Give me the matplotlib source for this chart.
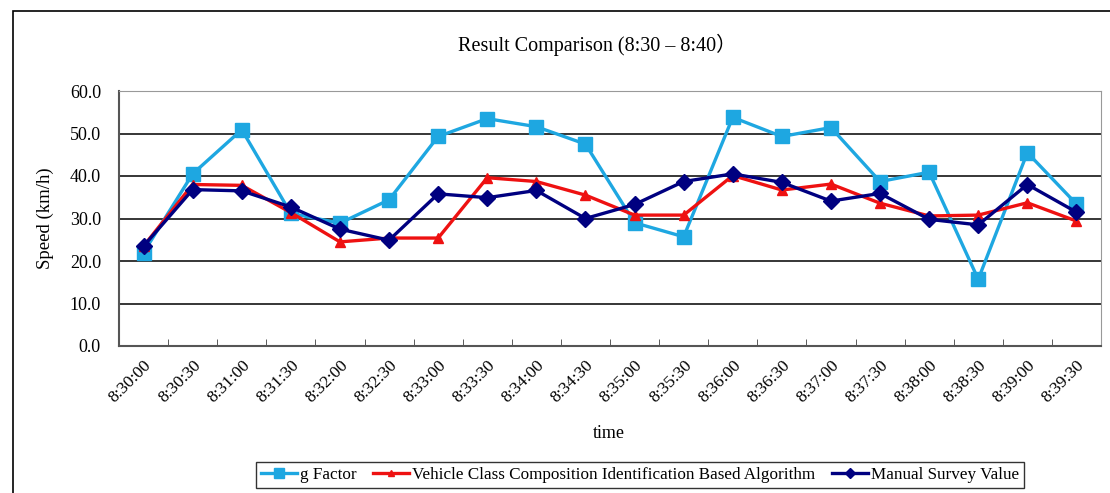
"""
 Speed result comparison chart (8:30 - 8:40)
"""

import matplotlib
matplotlib.use("Agg")
import matplotlib.pyplot as plt
from matplotlib.patches import Rectangle


# Step 1: Data

times = ['8:30:00', '8:30:30', '8:31:00', '8:31:30', '8:32:00', '8:32:30',
         '8:33:00', '8:33:30', '8:34:00', '8:34:30', '8:35:00', '8:35:30',
         '8:36:00', '8:36:30', '8:37:00', '8:37:30', '8:38:00', '8:38:30',
         '8:39:00', '8:39:30']

g_factor = [22.0, 40.5, 50.9, 31.2, 28.9, 34.4, 49.3, 53.5, 51.6, 47.5,
            29.0, 25.7, 53.8, 49.3, 51.4, 38.7, 40.9, 15.7, 45.5, 33.4]

vehicle_class = [23.5, 38.0, 37.8, 31.4, 24.5, 25.4, 25.4, 39.6, 38.7, 35.5,
                 30.8, 30.8, 40.1, 36.7, 38.1, 33.6, 30.6, 30.8, 33.7, 29.4]

manual_survey = [23.5, 36.8, 36.5, 32.7, 27.5, 24.9, 35.8, 34.9, 36.6, 30.0,
                 33.3, 38.7, 40.5, 38.5, 34.1, 35.9, 29.8, 28.5, 38.0, 31.5]

y_ticks = [0, 10, 20, 30, 40, 50, 60]


# Step 2: Figure

plt.rcParams['font.family'] = ['Liberation Serif', 'Noto Sans CJK SC', 'DejaVu Sans']

fig = plt.figure(figsize=(11.1, 4.93), dpi=100)
fig.patches.append(Rectangle((13 / 1110, -0.1), 1.2, 1 - 11 / 493 + 0.1,
                             transform=fig.transFigure, fill=False,
                             edgecolor='black', linewidth=1.2))

ax = fig.add_axes([119 / 1110, 1 - 346 / 493, 982 / 1110, 255 / 493])

x = list(range(len(times)))

ax.plot(x, g_factor, color='#1EA7E1', linewidth=2.4, marker='s',
        markersize=10, label='g Factor', zorder=3)
ax.plot(x, vehicle_class, color='#EE1111', linewidth=2.4, marker='^',
        markersize=7, label='Vehicle Class Composition Identification Based Algorithm',
        zorder=4)
ax.plot(x, manual_survey, color='#000080', linewidth=2.4, marker='D',
        markersize=8, label='Manual Survey Value', zorder=5)


# Step 3: Axes styling

ax.set_xlim(-0.5, len(times) - 0.5)
ax.set_ylim(0, 60)
ax.set_yticks(y_ticks)
ax.set_yticklabels([f"{v:.1f}" for v in y_ticks], fontsize=13)
for v in y_ticks[1:-1]:
    ax.axhline(v, color='black', linewidth=1.1, zorder=1)

ax.set_xticks(x)
ax.set_xticklabels(times, rotation=45, ha='right', rotation_mode='anchor', fontsize=12.5)
ax.tick_params(axis='x', which='major', length=0, pad=8)
ax.set_xticks([i + 0.5 for i in x[:-1]], minor=True)
ax.tick_params(axis='x', which='minor', direction='in', length=5, color='#404040')
ax.tick_params(axis='y', length=0, pad=13)

ax.spines['left'].set_color('#555555')
ax.spines['bottom'].set_color('#555555')
ax.spines['left'].set_linewidth(1.5)
ax.spines['bottom'].set_linewidth(1.5)
ax.spines['top'].set_color('#999999')
ax.spines['right'].set_color('#999999')

ax.set_ylabel('Speed (km/h)', fontsize=13.5)
ax.yaxis.set_label_coords((54 - 119) / 982, 0.5)
fig.text(609 / 1110, 1 - 434 / 493, 'time', ha='center', va='center', fontsize=13)
fig.text(597 / 1110, 1 - 45 / 493, 'Result Comparison (8:30 – 8:40）',
         ha='center', va='center', fontsize=14.5)

leg = fig.legend(loc='center', bbox_to_anchor=(640 / 1110, 1 - 475 / 493),
                 ncol=3, fontsize=12.3, frameon=True, fancybox=False,
                 edgecolor='black', handlelength=2.1, columnspacing=1.0,
                 handletextpad=0.15, borderpad=0.3, markerscale=0.7)
leg.get_frame().set_linewidth(1.0)

fig.savefig('out.png', dpi=100)
